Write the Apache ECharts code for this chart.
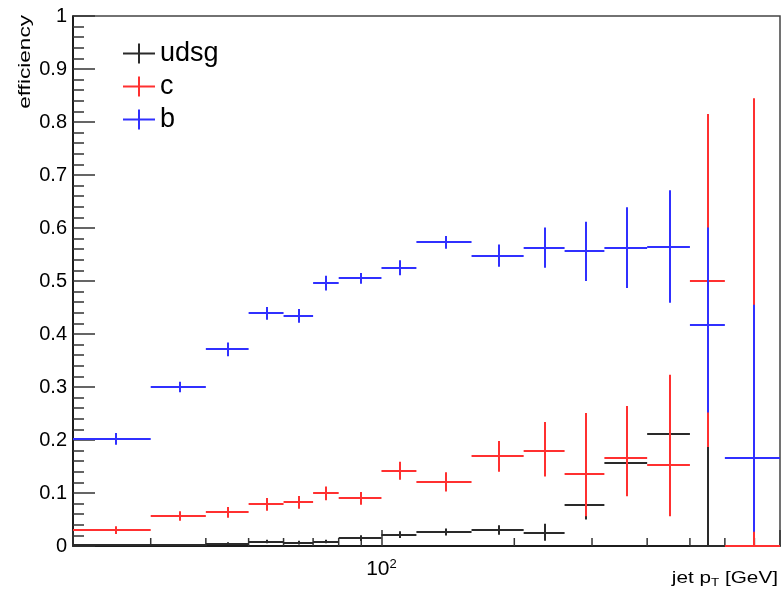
<!DOCTYPE html>
<html>
<head>
<meta charset="utf-8">
<script src="https://cdn.jsdelivr.net/npm/echarts@6/dist/echarts.min.js"></script>
<style>
  html, body { margin: 0; padding: 0; background: #fff; }
  #chart { width: 782px; height: 593px; }
</style>
</head>
<body>
<div id="chart"></div>
<script>
// Jet pT bin edges [GeV]
const binEdges = [20, 30, 40, 50, 60, 70, 80, 100, 120, 160, 210, 260, 320, 400, 500, 600, 800];

// Tagging efficiency per bin, with lower / upper uncertainties (null = empty bin)
const udsgEff   = [0.002, 0.002, 0.004, 0.008, 0.006, 0.008, 0.0145, 0.021, 0.026, 0.030, 0.025, 0.077, 0.157, 0.211, 0.0, null];
const udsgErrLo = [0.001, 0.001, 0.002, 0.003, 0.003, 0.003, 0.005, 0.006, 0.006, 0.009, 0.015, 0.027, 0.060, 0.090, 0.0, null];
const udsgErrHi = [0.002, 0.002, 0.003, 0.004, 0.004, 0.004, 0.006, 0.007, 0.007, 0.009, 0.017, 0.050, 0.085, 0.100, 0.200, null];

const cEff   = [0.030, 0.0566, 0.0635, 0.0786, 0.0824, 0.0994, 0.090, 0.142, 0.121, 0.169, 0.179, 0.136, 0.166, 0.152, 0.500, 0.0];
const cErrLo = [0.0075, 0.009, 0.010, 0.012, 0.012, 0.013, 0.012, 0.017, 0.018, 0.029, 0.048, 0.080, 0.072, 0.096, 0.313, 0.0];
const cErrHi = [0.0075, 0.009, 0.010, 0.012, 0.012, 0.013, 0.012, 0.017, 0.018, 0.029, 0.055, 0.115, 0.098, 0.171, 0.315, 0.845];

const bEff   = [0.202, 0.300, 0.371, 0.439, 0.434, 0.496, 0.505, 0.525, 0.573, 0.548, 0.563, 0.556, 0.563, 0.565, 0.417, 0.166];
const bErrLo = [0.011, 0.010, 0.013, 0.012, 0.013, 0.014, 0.010, 0.014, 0.012, 0.021, 0.038, 0.056, 0.076, 0.106, 0.165, 0.139];
const bErrHi = [0.011, 0.010, 0.013, 0.012, 0.013, 0.014, 0.010, 0.014, 0.012, 0.021, 0.038, 0.056, 0.076, 0.106, 0.184, 0.289];

// Minor tick positions on the log pT axis
const xMinorTicks = [30, 40, 50, 60, 70, 80, 90, 200, 300, 400, 500, 600, 700];

const seriesNames  = ['udsg', 'c', 'b'];
const seriesColors = ['#2a2a2a', '#ff3030', '#3030ff'];

function buildRows(eff, lo, hi) {
  const rows = [];
  for (let i = 0; i < eff.length; i++) {
    if (eff[i] === null) continue;
    rows.push([binEdges[i], binEdges[i + 1], eff[i], lo[i], hi[i]]);
  }
  return rows;
}

// Horizontal bar across the bin plus vertical uncertainty bar at the bin centre,
// snapped to whole pixels so that overlapping bars cover each other cleanly.
function errorBarRenderer(color) {
  return function (params, api) {
    const x0 = api.value(0), x1 = api.value(1);
    const y = api.value(2), lo = api.value(3), hi = api.value(4);
    const xc = (x0 + x1) / 2;
    const pL = api.coord([x0, y]);
    const pR = api.coord([x1, y]);
    const pLo = api.coord([xc, y - lo]);
    const pHi = api.coord([xc, y + hi]);
    const yRow = Math.round(pL[1]);
    const xCol = Math.round(pLo[0]);
    const style = { stroke: color, lineWidth: 2, fill: null };
    return {
      type: 'group',
      children: [
        { type: 'line', shape: { x1: pL[0], y1: yRow, x2: pR[0], y2: yRow }, style: style },
        { type: 'line', shape: { x1: xCol, y1: pLo[1], x2: xCol, y2: pHi[1] }, style: style }
      ]
    };
  };
}

const effData = [
  buildRows(udsgEff, udsgErrLo, udsgErrHi),
  buildRows(cEff, cErrLo, cErrHi),
  buildRows(bEff, bErrLo, bErrHi)
];

const crossIcon = 'path://M0,9H32V11H0ZM15,0H17V20H15Z';

const series = seriesNames.map(function (name, k) {
  return {
    name: name,
    type: 'custom',
    clip: false,
    z: 3 + k,
    itemStyle: { color: seriesColors[k] },
    renderItem: errorBarRenderer(seriesColors[k]),
    encode: { x: [0, 1], y: 2 },
    data: effData[k]
  };
});

// Short inward ticks for 30..90 and 200..700 on the x axis
series.push({
  name: 'xMinorTicks',
  type: 'custom',
  silent: true,
  clip: false,
  z: 2,
  renderItem: function (params, api) {
    const p = api.coord([api.value(0), 0]);
    return {
      type: 'line',
      shape: { x1: p[0], y1: p[1], x2: p[0], y2: p[1] - 8 },
      style: { stroke: '#333', lineWidth: 1.5 }
    };
  },
  encode: { x: 0 },
  data: xMinorTicks.map(function (v) { return [v]; })
});

const chart = echarts.init(document.getElementById('chart'), null, { renderer: 'canvas' });

chart.setOption({
  animation: false,
  backgroundColor: '#fff',
  textStyle: { fontFamily: 'Liberation Sans' },
  grid: {
    left: 73, right: 2, top: 16, bottom: 47,
    containLabel: false,
    outerBoundsMode: 'none',
    show: true, borderColor: '#444', borderWidth: 1.5
  },
  legend: {
    orient: 'vertical',
    left: 123, top: 40,
    padding: 0,
    itemWidth: 32, itemHeight: 20, itemGap: 6,
    selectedMode: false,
    itemStyle: { borderWidth: 0 },
    textStyle: { fontSize: 27, color: '#000', fontFamily: 'Liberation Sans' },
    data: seriesNames.map(function (n) { return { name: n, icon: crossIcon }; })
  },
  xAxis: {
    type: 'log',
    logBase: 10,
    min: 20,
    max: 800,
    axisLine: { lineStyle: { color: '#000', width: 1.5 } },
    axisTick: { inside: true, length: 16, lineStyle: { color: '#333', width: 1.5 } },
    splitLine: { show: false },
    axisLabel: {
      margin: 12,
      color: '#000',
      formatter: function (v) { return Math.abs(v - 100) < 1e-6 ? '{b|10}{s|2}' : ''; },
      rich: {
        b: { fontSize: 21, fontFamily: 'Liberation Sans', color: '#000' },
        s: { fontSize: 13, fontFamily: 'Liberation Sans', color: '#000', verticalAlign: 'top', padding: [0, 0, 9, 0] }
      }
    }
  },
  yAxis: {
    type: 'value',
    min: 0,
    max: 1,
    interval: 0.1,
    axisLine: { show: true, lineStyle: { color: '#000', width: 1.5 } },
    axisTick: { inside: true, length: 22, lineStyle: { color: '#333', width: 1.5 } },
    minorTick: { show: true, splitNumber: 5, length: 11, lineStyle: { color: '#333', width: 1.5 } },
    splitLine: { show: false },
    axisLabel: { fontSize: 20, color: '#000', margin: 6, fontFamily: 'Liberation Sans' }
  },
  graphic: [
    {
      type: 'text',
      x: 25.5, y: 15,
      rotation: Math.PI / 2,
      scaleX: 1.33,
      style: {
        text: 'efficiency',
        fontSize: 17, fontFamily: 'Liberation Sans', fill: '#000',
        align: 'right', verticalAlign: 'middle'
      }
    },
    {
      type: 'text',
      x: 778, y: 578,
      scaleX: 1.22,
      style: {
        text: 'jet p{sub|T} [GeV]',
        fontSize: 17, fontFamily: 'Liberation Sans', fill: '#000',
        align: 'right', verticalAlign: 'middle',
        rich: {
          sub: { fontSize: 11, fontFamily: 'Liberation Sans', fill: '#000', padding: [10, 0, 0, 0] }
        }
      }
    }
  ],
  series: series
});
</script>
</body>
</html>
